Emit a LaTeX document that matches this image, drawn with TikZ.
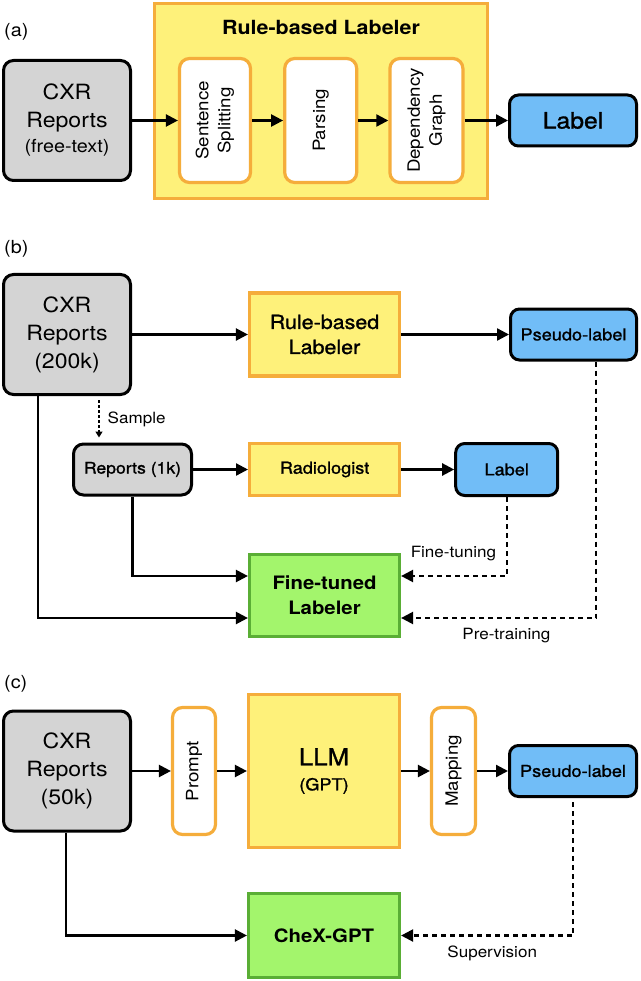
\documentclass[tikz,border=0pt]{standalone}
\usepackage{fontspec}
\setmainfont[FakeStretch=1.1]{TeX Gyre Heros}
\newfontfamily\medfont[FakeStretch=1.1,FakeBold=1.2]{TeX Gyre Heros}
\usepackage{graphicx}
\usepackage{tikz}
\usetikzlibrary{arrows.meta}
\usetikzlibrary{positioning}

\definecolor{repgray}{HTML}{D4D4D4}
\definecolor{rulefill}{HTML}{FEF17A}
\definecolor{ruleline}{HTML}{F5AD3B}
\definecolor{labfill}{HTML}{71BDF7}
\definecolor{tunefill}{HTML}{A3F56C}
\definecolor{tuneline}{HTML}{5AAE35}

\tikzset{rep/.style={draw=black, line width=3pt, fill=repgray, rounded corners=10pt, inner sep=0pt, align=center}}
\tikzset{lab/.style={draw=black, line width=3pt, fill=labfill, rounded corners=9pt, inner sep=0pt, align=center}}
\tikzset{rulebox/.style={draw=ruleline, line width=3.2pt, fill=rulefill, inner sep=0pt, align=center}}
\tikzset{stage/.style={draw=ruleline, line width=3.2pt, fill=white, rounded corners=10pt, inner sep=0pt}}
\tikzset{tuned/.style={draw=tuneline, line width=3.2pt, fill=tunefill, inner sep=0pt, align=center}}
\tikzset{flow/.style={-{Triangle[length=12pt,width=12pt]}, line width=2.3pt}}
\tikzset{weak/.style={flow, dash pattern=on 5pt off 4pt}}
\tikzset{samp/.style={-{Triangle[length=6pt,width=7pt]}, line width=1.3pt, dash pattern=on 3pt off 2pt}}
\tikzset{tag/.style={font=\fontsize{18}{20}\selectfont, anchor=west, inner sep=0pt}}
\tikzset{note/.style={font=\fontsize{15.5}{18}\selectfont, inner sep=0pt}}

\begin{document}
\begin{tikzpicture}[x=1pt, y=-1pt]
   \useasboundingbox (0,0) rectangle (640,981);

   % (a)
   \node[tag] (tagA) at (4,32) {(a)};
   \node[rulebox, minimum width=333, minimum height=195] (ruleA) at (321,101) {};
   \node[font=\bfseries\fontsize{19.5}{22}\selectfont] (titleA) at (321,27) {Rule-based Labeler};
   \node[rep, minimum width=127, minimum height=120, font=\fontsize{21}{28}\selectfont] (cxrA) at (67,120.5)
      {CXR\\Reports\\[-3pt]{\fontsize{18}{22}\selectfont (free-text)}};
   \node[stage, minimum width=71, minimum height=124] (split) at (215,120.5) {\rotatebox{90}{\fontsize{17}{22}\selectfont
      \begin{tabular}{c}
         Sentence\\
         Splitting\\
      \end{tabular}}};
   \node[stage, minimum width=72, minimum height=124] (parse) [right=31pt of split] {\rotatebox{90}{\fontsize{17}{22}\selectfont Parsing}};
   \node[stage, minimum width=73, minimum height=124] (graph) [right=30pt of parse] {\rotatebox{90}{\fontsize{17}{22}\selectfont
      \begin{tabular}{c}
         Dependency\\
         Graph\\
      \end{tabular}}};
   \node[lab, minimum width=127, minimum height=51, font=\medfont\fontsize{22.5}{26}\selectfont] (labA) at (573,120.5) {Label};

   \draw[flow] (cxrA) -- (split);
   \draw[flow] (split) -- (parse);
   \draw[flow] (parse) -- (graph);
   \draw[flow] (graph) -- (labA);

   % (b)
   \node[tag] (tagB) at (4,249) {(b)};
   \node[rep, minimum width=127, minimum height=120, font=\fontsize{21}{28}\selectfont] (cxrB) at (67,334.5) {CXR\\Reports\\(200k)};
   \node[rulebox, minimum width=150, minimum height=83, font=\medfont\fontsize{19.5}{25}\selectfont] (ruleB) at (324.5,334.5) {Rule-based\\Labeler};
   \node[lab, minimum width=126, minimum height=51, font=\medfont\fontsize{16.5}{20}\selectfont] (pseudoB) at (573.5,334.5) {Pseudo-label};
   \node[rep, minimum width=118, minimum height=51, font=\medfont\fontsize{16}{20}\selectfont] (rep1k) at (132.5,469.5) {Reports (1k)};
   \node[rulebox, minimum width=150, minimum height=52, font=\medfont\fontsize{16.5}{20}\selectfont] (radio) [right=55pt of rep1k] {Radiologist};
   \node[lab, minimum width=102, minimum height=52, font=\medfont\fontsize{16.5}{20}\selectfont] (labB) [right=53pt of radio] {Label};
   \node[tuned, minimum width=150, minimum height=82, font=\bfseries\fontsize{18.5}{25}\selectfont] (tuneB) at (324.5,595.5) {Fine-tuned\\Labeler};

   \draw[flow] (cxrB) -- (ruleB);
   \draw[flow] (ruleB) -- (pseudoB);
   \draw[samp, shorten <=4pt, shorten >=5pt] ([xshift=32pt]cxrB.south) -- ([xshift=32pt]cxrB.south |- rep1k.north)
      node[note, midway, anchor=west, xshift=8pt] {Sample};
   \draw[flow] (rep1k) -- (radio);
   \draw[flow] (radio) -- (labB);
   \draw[flow] (rep1k.south) |- ([yshift=19.5pt]tuneB.west);
   \draw[flow] ([xshift=-29pt]cxrB.south) |- ([yshift=-22.5pt]tuneB.west);
   \draw[weak] (labB.south) |- ([yshift=19.5pt]tuneB.east)
      node[note, pos=0.5, anchor=south east, xshift=-9.5pt, yshift=14pt] {Fine-tuning};
   \draw[weak] ([xshift=22.5pt]pseudoB.south) |- ([yshift=-22.5pt]tuneB.east)
      node[note, pos=0.73, anchor=north, yshift=-9pt] {Pre-training};

   % (c)
   \node[tag] (tagC) at (4,684) {(c)};
   \node[rep, minimum width=127, minimum height=120, font=\fontsize{21}{28}\selectfont] (cxrC) at (67,771) {CXR\\Reports\\(50k)};
   \node[stage, minimum width=43, minimum height=127] (prompt) at (194,771) {\rotatebox{90}{\fontsize{17}{22}\selectfont Prompt}};
   \node[rulebox, minimum width=151, minimum height=153, font=\medfont\fontsize{23.5}{25}\selectfont] (llm) at (324,771)
      {LLM\\{\fontsize{16.5}{20}\selectfont (GPT)}};
   \node[stage, minimum width=44, minimum height=127] (mapping) at (453.5,771) {\rotatebox{90}{\fontsize{17}{22}\selectfont Mapping}};
   \node[lab, minimum width=127, minimum height=51, font=\medfont\fontsize{16.5}{20}\selectfont] (pseudoC) at (573,771) {Pseudo-label};
   \node[tuned, minimum width=151, minimum height=84, font=\bfseries\fontsize{18.5}{22}\selectfont] (chex) at (324,935.5) {CheX-GPT};

   \draw[flow] (cxrC) -- (prompt);
   \draw[flow] (prompt) -- (llm);
   \draw[flow] (llm) -- (mapping);
   \draw[flow] (mapping) -- (pseudoC);
   \draw[flow] ([xshift=-1pt]cxrC.south) |- (chex.west);
   \draw[weak, shorten <=4pt] (pseudoC.south) |- (chex.east)
      node[note, pos=0.735, anchor=north, yshift=-9pt] {Supervision};
\end{tikzpicture}
\end{document}
